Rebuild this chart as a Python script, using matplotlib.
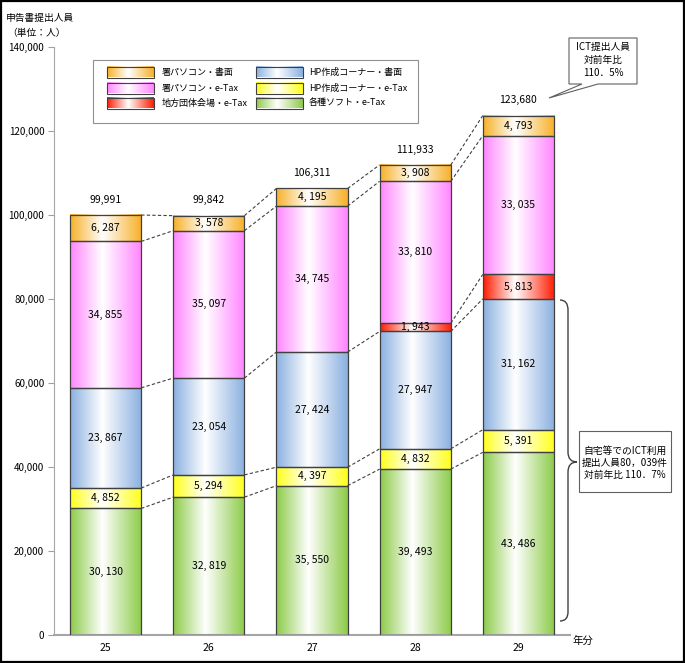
import numpy as np
import matplotlib
matplotlib.use('Agg')
import matplotlib.pyplot as plt
from matplotlib.colors import LinearSegmentedColormap
from matplotlib.patches import Rectangle, Polygon, PathPatch
from matplotlib.path import Path

plt.rcParams['font.family'] = ['Noto Sans CJK JP', 'DejaVu Sans']

years = ['25', '26', '27', '28', '29']
soft_etax = [30130, 32819, 35550, 39493, 43486]      # 各種ソフト・e-Tax
hp_etax = [4852, 5294, 4397, 4832, 5391]             # HP作成コーナー・e-Tax
hp_paper = [23867, 23054, 27424, 27947, 31162]       # HP作成コーナー・書面
local_etax = [0, 0, 0, 1943, 5813]                   # 地方団体会場・e-Tax
office_etax = [34855, 35097, 34745, 33810, 33035]    # 署パソコン・e-Tax
office_paper = [6287, 3578, 4195, 3908, 4793]        # 署パソコン・書面
totals = [99991, 99842, 106311, 111933, 123680]
yticks = [0, 20000, 40000, 60000, 80000, 100000, 120000, 140000]

# bottom -> top
series = [
    ('各種ソフト・e-Tax', soft_etax, '#8CCB48'),
    ('HP作成コーナー・e-Tax', hp_etax, '#FFFF1A'),
    ('HP作成コーナー・書面', hp_paper, '#8AB0E0'),
    ('地方団体会場・e-Tax', local_etax, '#FF1A00'),
    ('署パソコン・e-Tax', office_etax, '#FF85FF'),
    ('署パソコン・書面', office_paper, '#F7B028'),
]
legend_order = ['署パソコン・書面', '署パソコン・e-Tax', '地方団体会場・e-Tax',
                'HP作成コーナー・書面', 'HP作成コーナー・e-Tax', '各種ソフト・e-Tax']

W, H = 685, 663
fig = plt.figure(figsize=(W / 100, H / 100), dpi=100)
ax = fig.add_axes([54 / W, 1 - 635 / H, (570 - 54) / W, (635 - 47) / H])

def cmap_for(c):
    return LinearSegmentedColormap.from_list('g', [(0, c), (0.45, '#FFFFFF'), (1, c)])

grad = np.linspace(0, 1, 256).reshape(1, -1)
x = np.arange(len(years))
bw = 0.69
edge = '#404040'

bottom = np.zeros(len(years))
tops = []
for name, vals, col in series:
    vals = np.array(vals, dtype=float)
    cm = cmap_for(col)
    for i in range(len(years)):
        if vals[i] <= 0:
            continue
        ax.imshow(grad, cmap=cm, extent=[x[i] - bw / 2, x[i] + bw / 2, bottom[i], bottom[i] + vals[i]],
                  aspect='auto', interpolation='bilinear', zorder=2)
        ax.text(x[i], bottom[i] + vals[i] / 2, f"{int(vals[i]):,}".replace(',', ', '),
                ha='center', va='center', fontsize=7.5, zorder=4)
    ax.bar(x[vals > 0], vals[vals > 0], bottom=bottom[vals > 0], width=bw, facecolor='none',
           edgecolor=edge, lw=0.9, zorder=3)
    top = bottom + vals
    for i in range(len(years) - 1):
        if vals[i] > 0 and vals[i + 1] > 0:
            ax.plot([x[i] + bw / 2, x[i + 1] - bw / 2], [top[i], top[i + 1]],
                    ls=(0, (3, 2)), color='#404040', lw=0.8, zorder=3)
    bottom = top

for i, t in enumerate(totals):
    ax.annotate(f"{t:,}", (x[i], t), xytext=(0, 11), textcoords='offset points',
                ha='center', va='center', fontsize=7.5)

ax.set_xlim(-0.5, len(years) - 0.5)
ax.set_ylim(0, 140000)
ax.set_xticks(x)
ax.set_xticklabels(years)
ax.set_yticks(yticks)
ax.set_yticklabels([f"{v:,}" for v in yticks])
ax.tick_params(axis='y', length=4, color='#A0A0A0', labelsize=7, pad=3)
ax.tick_params(axis='x', length=0, labelsize=7.5, pad=6)
for s in ['top', 'right']:
    ax.spines[s].set_visible(False)
ax.spines['left'].set_color('#A6A6A6')
ax.spines['bottom'].set_color('#A6A6A6')
ax.spines['bottom'].set_linewidth(1.5)

# overlay in pixel coordinates for annotations
ov = fig.add_axes([0, 0, 1, 1])
ov.axis('off')

ov.text(40, 18, '申告書提出人員', ha='center', va='center', fontsize=7)
ov.text(37, 33, '（単位：人）', ha='center', va='center', fontsize=7)
ov.text(583, 641, '年分', ha='center', va='center', fontsize=7.5)

# legend
ov.add_patch(Rectangle((93, 60), 325, 63, facecolor='white', edgecolor='#909090', lw=0.8, zorder=1))
colmap = {n: c for n, _, c in series}
pos = {}
rows_y = [72, 88, 103]
for k, n in enumerate(legend_order):
    col = k // 3
    row = k % 3
    hx = 107 if col == 0 else 256
    tx = 162 if col == 0 else 309
    yy = rows_y[row]
    ov.imshow(grad, cmap=cmap_for(colmap[n]), extent=[hx, hx + 47, yy + 5.5, yy - 5.5],
              aspect='auto', interpolation='bilinear', zorder=2)
    ov.add_patch(Rectangle((hx, yy - 5.5), 47, 11, facecolor='none', edgecolor=edge, lw=0.8, zorder=3))
    ov.text(tx, yy, n, ha='left', va='center', fontsize=6.5, zorder=3)

# top callout
callout = [(569, 38), (637, 38), (637, 84), (598, 84), (549, 98), (582, 84), (569, 84)]
ov.add_patch(Polygon(callout, closed=True, facecolor='white', edgecolor='#606060', lw=0.8, zorder=2))
for yy, s in zip([47, 60, 73], ['ICT提出人員', '対前年比', '110．5%']):
    ov.text(603, yy, s, ha='center', va='center', fontsize=7, zorder=3)

# brace
verts = [(560, 300), (568, 300), (568, 310), (568, 452), (568, 462), (577, 462),
         (568, 462), (568, 472), (568, 612), (568, 621), (560, 621)]
codes = [Path.MOVETO, Path.CURVE3, Path.CURVE3, Path.LINETO, Path.CURVE3, Path.CURVE3,
         Path.CURVE3, Path.CURVE3, Path.LINETO, Path.CURVE3, Path.CURVE3]
ov.add_patch(PathPatch(Path(verts, codes), facecolor='none', edgecolor='#404040', lw=1.0))

ov.add_patch(Rectangle((579, 431), 92, 61, facecolor='white', edgecolor='#606060', lw=0.8, zorder=2))
for yy, s in zip([451, 463, 475], ['自宅等でのICT利用', '提出人員80，039件', '対前年比 110．7%']):
    ov.text(625, yy, s, ha='center', va='center', fontsize=7, zorder=3)

# outer border
ov.add_patch(Rectangle((0.8, 0.8), W - 1.8, H - 1.8, facecolor='none', edgecolor='black', lw=1.6))

ov.set_xlim(0, W)
ov.set_ylim(H, 0)

fig.savefig('out.png', dpi=100)
